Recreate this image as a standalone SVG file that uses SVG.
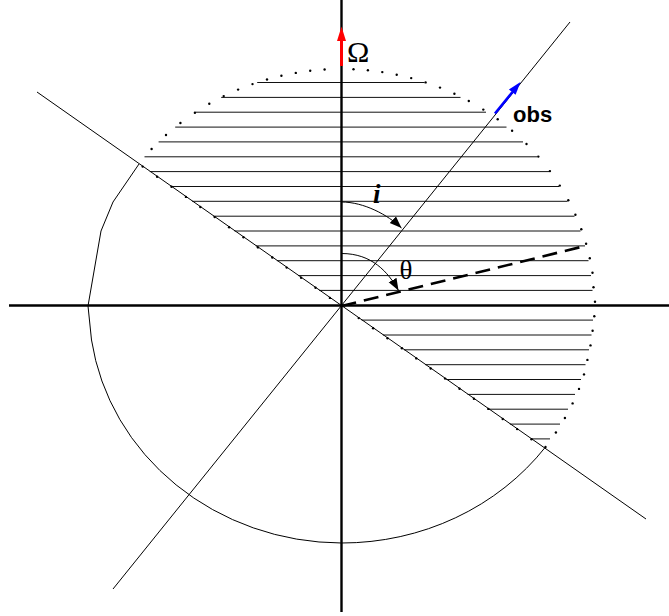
<svg xmlns="http://www.w3.org/2000/svg" width="669" height="616" viewBox="0 0 669 616">
<style>
.thin{fill:none;stroke:#000;stroke-width:1}
.axis{fill:none;stroke:#000;stroke-width:2.4}
.hatch{fill:none;stroke:#111;stroke-width:1}
.dot{fill:#000}
.lbl{font-family:"Liberation Serif","Times New Roman",serif;fill:#000}
</style>
<defs>
<marker id="ah" markerUnits="userSpaceOnUse" markerWidth="13" markerHeight="10" refX="12" refY="4.5" orient="auto">
<path d="M0,0 L12,4.5 L0,9 z" fill="#000"/>
</marker>
</defs>
<rect width="669" height="616" fill="#fff"/>
<g id="hatch">
<path class="hatch" d="M257.2,82.5H424.5M221.2,97.4H460.5M195.6,112.2H486M175.2,127.1H506.5M158.6,141.9H523M144.5,156.8H537M149.8,171.6H549M171.1,186.5H559M192.2,201.3H567.5M213.4,216.2H574.5M234.5,231H580.5M255.8,245.9H585M276.9,260.7H588.5M298.1,275.6H591M319.2,290.4H592.5M361.6,320.1H593M382.9,335H591.5M404,349.8H589M425.2,364.7H585.5M446.3,379.5H581M467.6,394.4H575M488.7,409.2H568M509.9,424.1H560M531.1,438.9H550"/>
</g>
<g id="sphere-outline">
<path class="thin" d="M139,164 L113,202 L101,231 L88,306 L91.5,340 A253.5,237 0 0 0 341.5,543 A253.5,237 0 0 0 545.5,447"/>
<g id="dots-arc">
<circle class="dot" cx="151.6" cy="149" r="1.2"/><circle class="dot" cx="166" cy="135" r="1.2"/><circle class="dot" cx="180.4" cy="123" r="1.2"/><circle class="dot" cx="194.9" cy="112.7" r="1.2"/><circle class="dot" cx="209.3" cy="103.8" r="1.2"/><circle class="dot" cx="223.7" cy="96.1" r="1.2"/><circle class="dot" cx="238.1" cy="89.6" r="1.2"/><circle class="dot" cx="252.5" cy="84.1" r="1.2"/><circle class="dot" cx="267" cy="79.5" r="1.2"/><circle class="dot" cx="281.4" cy="75.8" r="1.2"/><circle class="dot" cx="295.8" cy="72.9" r="1.2"/><circle class="dot" cx="310.2" cy="70.8" r="1.2"/><circle class="dot" cx="324.6" cy="69.5" r="1.2"/><circle class="dot" cx="353.5" cy="69.3" r="1.2"/><circle class="dot" cx="367.9" cy="70.3" r="1.2"/><circle class="dot" cx="382.3" cy="72.1" r="1.2"/><circle class="dot" cx="396.7" cy="74.7" r="1.2"/><circle class="dot" cx="411.2" cy="78.1" r="1.2"/><circle class="dot" cx="425.6" cy="82.4" r="1.2"/><circle class="dot" cx="440" cy="87.6" r="1.2"/><circle class="dot" cx="454.4" cy="93.8" r="1.2"/><circle class="dot" cx="468.8" cy="101" r="1.2"/><circle class="dot" cx="483.3" cy="109.6" r="1.2"/><circle class="dot" cx="497.7" cy="119.3" r="1.2"/><circle class="dot" cx="512.1" cy="130.7" r="1.2"/><circle class="dot" cx="526.5" cy="144" r="1.2"/>
<circle class="dot" cx="538.3" cy="156.6" r="1.2"/><circle class="dot" cx="549.9" cy="171.1" r="1.2"/><circle class="dot" cx="559.8" cy="185.6" r="1.2"/><circle class="dot" cx="568.3" cy="200.2" r="1.2"/><circle class="dot" cx="575.4" cy="214.7" r="1.2"/><circle class="dot" cx="581.3" cy="229.2" r="1.2"/><circle class="dot" cx="586.1" cy="243.7" r="1.2"/><circle class="dot" cx="589.8" cy="258.2" r="1.2"/><circle class="dot" cx="592.5" cy="272.8" r="1.2"/><circle class="dot" cx="593.5" cy="287.3" r="1.2"/><circle class="dot" cx="595" cy="301.8" r="1.2"/><circle class="dot" cx="594.3" cy="316.3" r="1.2"/><circle class="dot" cx="592.6" cy="330.8" r="1.2"/><circle class="dot" cx="590.5" cy="345.4" r="1.2"/><circle class="dot" cx="587.4" cy="359.9" r="1.2"/><circle class="dot" cx="584" cy="374.4" r="1.2"/><circle class="dot" cx="579" cy="388.9" r="1.2"/><circle class="dot" cx="572.6" cy="403.4" r="1.2"/><circle class="dot" cx="564.9" cy="418" r="1.2"/><circle class="dot" cx="555.9" cy="432.5" r="1.2"/><circle class="dot" cx="545.5" cy="447" r="1.2"/>
</g>
<g id="dots-equator">
<circle class="dot" cx="142.7" cy="166.6" r="1.2"/><circle class="dot" cx="157.1" cy="176.7" r="1.2"/><circle class="dot" cx="171.5" cy="186.8" r="1.2"/><circle class="dot" cx="185.9" cy="196.9" r="1.2"/><circle class="dot" cx="200.3" cy="207" r="1.2"/><circle class="dot" cx="214.7" cy="217.1" r="1.2"/><circle class="dot" cx="229.1" cy="227.2" r="1.2"/><circle class="dot" cx="243.5" cy="237.3" r="1.2"/><circle class="dot" cx="257.9" cy="247.4" r="1.2"/><circle class="dot" cx="272.3" cy="257.5" r="1.2"/><circle class="dot" cx="286.7" cy="267.6" r="1.2"/><circle class="dot" cx="301.1" cy="277.7" r="1.2"/><circle class="dot" cx="315.5" cy="287.8" r="1.2"/><circle class="dot" cx="329.9" cy="297.9" r="1.2"/><circle class="dot" cx="358.7" cy="318.1" r="1.2"/><circle class="dot" cx="373.1" cy="328.2" r="1.2"/><circle class="dot" cx="387.5" cy="338.3" r="1.2"/><circle class="dot" cx="401.9" cy="348.3" r="1.2"/><circle class="dot" cx="416.3" cy="358.4" r="1.2"/><circle class="dot" cx="430.7" cy="368.5" r="1.2"/><circle class="dot" cx="445.1" cy="378.6" r="1.2"/><circle class="dot" cx="459.5" cy="388.7" r="1.2"/><circle class="dot" cx="473.9" cy="398.8" r="1.2"/><circle class="dot" cx="488.3" cy="408.9" r="1.2"/><circle class="dot" cx="502.7" cy="419" r="1.2"/><circle class="dot" cx="517.1" cy="429.1" r="1.2"/><circle class="dot" cx="531.5" cy="439.2" r="1.2"/>
</g>
</g>
<g id="connectors">
<line id="equator-line" class="thin" x1="37" y1="92" x2="646" y2="519"/>
<line id="obs-line" class="thin" x1="113" y1="589" x2="570" y2="22"/>
<line id="h-axis" class="axis" x1="9" y1="305.5" x2="669" y2="305.5"/>
<line id="v-axis" class="axis" x1="341.5" y1="0" x2="341.5" y2="612"/>
<line id="theta-dir" x1="341.5" y1="306" x2="585" y2="246" stroke="#000" stroke-width="2.6" stroke-dasharray="15 8"/>
<path id="arc-i" class="thin" d="M341.5,202 C364,202 388,215 401.5,228" marker-end="url(#ah)"/>
<path id="arc-theta" class="thin" d="M341.5,253.5 C372,253.5 388,272 398.5,290.5" marker-end="url(#ah)"/>
<g id="omega-arrow">
<line x1="341.5" y1="66" x2="341.5" y2="38" stroke="#f00" stroke-width="3"/>
<path d="M341.5,26.5 L346,41 L337,41 z" fill="#f00"/>
</g>
<g id="obs-arrow">
<line x1="495" y1="113.5" x2="512.5" y2="92" stroke="#00f" stroke-width="2.6"/>
<path d="M520.5,82 L515.6,94.8 L508.9,89.4 z" fill="#00f"/>
</g>
</g>
<g id="labels">
<text id="omega" class="lbl" x="347" y="62" font-size="30">Ω</text>
<text id="obs" x="513" y="121.5" font-family="'Liberation Sans',Arial,sans-serif" font-weight="bold" font-size="22" fill="#000">obs</text>
<text id="i-label" class="lbl" x="373" y="203" font-size="27" font-style="italic" font-weight="bold">i</text>
<text id="theta" class="lbl" x="399.5" y="278.5" font-size="27">θ</text>
</g>
</svg>
